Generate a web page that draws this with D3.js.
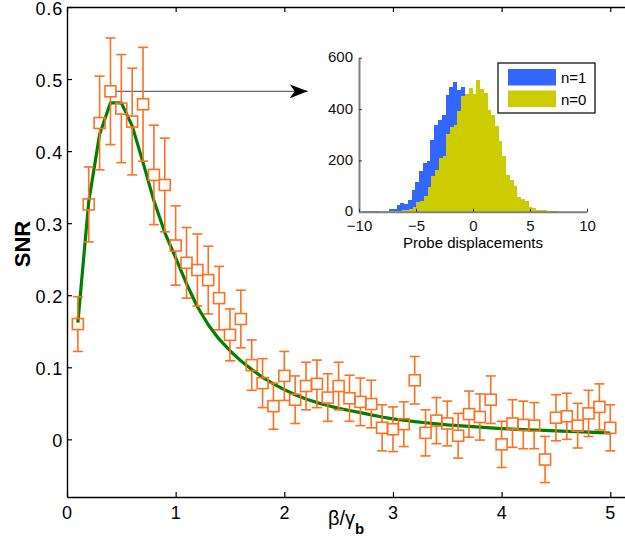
<!DOCTYPE html>
<html>
<head>
<meta charset="utf-8">
<script src="https://cdn.jsdelivr.net/npm/d3@7"></script>
<style>
  body { margin: 0; background: #fff; }
  svg { font-family: "Liberation Sans", Arial, sans-serif; }
</style>
</head>
<body>
<div id="chart"></div>
<script>
// ---- main data: SNR vs beta/gamma_b ----
const betaX = [0.1, 0.2, 0.3, 0.4, 0.5, 0.6, 0.7, 0.8, 0.9, 1.0,
               1.1, 1.2, 1.3, 1.4, 1.5, 1.6, 1.7, 1.8, 1.9, 2.0,
               2.1, 2.2, 2.3, 2.4, 2.5, 2.6, 2.7, 2.8, 2.9, 3.0,
               3.1, 3.2, 3.3, 3.4, 3.5, 3.6, 3.7, 3.8, 3.9, 4.0,
               4.1, 4.2, 4.3, 4.4, 4.5, 4.6, 4.7, 4.8, 4.9, 5.0];
const snrMeasured = [0.160, 0.326, 0.439, 0.483, 0.459, 0.441, 0.465, 0.367, 0.353, 0.269,
                     0.245, 0.235, 0.221, 0.196, 0.145, 0.167, 0.103, 0.078, 0.046, 0.088,
                     0.055, 0.074, 0.077, 0.058, 0.074, 0.057, 0.052, 0.049, 0.016, 0.014,
                     0.021, 0.082, 0.009, 0.026, 0.022, 0.005, 0.035, 0.031, 0.055, -0.007,
                     0.022, 0.020, 0.019, -0.028, 0.030, 0.032, 0.019, 0.036, 0.045, 0.016];
const snrError = [0.038, 0.052, 0.065, 0.074, 0.075, 0.074, 0.079, 0.069, 0.065, 0.055,
                  0.049, 0.050, 0.047, 0.044, 0.036, 0.040, 0.035, 0.034, 0.032, 0.034,
                  0.033, 0.033, 0.033, 0.033, 0.033, 0.032, 0.033, 0.033, 0.032, 0.031,
                  0.031, 0.033, 0.032, 0.032, 0.031, 0.031, 0.032, 0.032, 0.033, 0.032,
                  0.033, 0.033, 0.032, 0.032, 0.032, 0.032, 0.031, 0.032, 0.032, 0.032];
const snrTheory = [0.162, 0.330, 0.423, 0.467, 0.467, 0.435, 0.384, 0.331, 0.287, 0.252,
                   0.216, 0.184, 0.159, 0.139, 0.123, 0.109, 0.097, 0.086, 0.077, 0.069,
                   0.062, 0.056, 0.051, 0.047, 0.043, 0.040, 0.037, 0.034, 0.031, 0.0285,
                   0.0265, 0.0245, 0.023, 0.0215, 0.020, 0.019, 0.018, 0.017, 0.016, 0.015,
                   0.0143, 0.0136, 0.013, 0.0124, 0.0118, 0.0112, 0.0106, 0.010, 0.0094, 0.0088];
const xTicks = [0, 1, 2, 3, 4, 5];
const yTicks = [0, 0.1, 0.2, 0.3, 0.4, 0.5, 0.6];
const arrowFrom = [0.4, 0.483], arrowTo = [2.215, 0.483];

// ---- inset data: histograms of probe displacements ----
const n1Start = -9.67, n1Width = 0.33;
const n1Counts = [2, 2, 2, 3, 3, 3, 3, 10, 10, 26, 34, 30, 46, 85, 115, 159, 190, 199, 280, 338,
                  357, 377, 455, 485, 504, 474, 487, 460, 445, 400, 340, 280, 220, 160, 110, 72, 42, 22, 11, 6,
                  3, 2, 1, 1, 1, 1];
const n0Start = -8.23, n0Width = 0.327;
const n0Counts = [1, 1, 2, 2, 3, 4, 6, 7, 10, 17, 39, 42, 61, 95, 139, 163, 211, 217, 303, 329,
                  338, 393, 451, 459, 481, 459, 513, 478, 461, 396, 377, 334, 276, 217, 143, 124, 100, 56, 48, 43,
                  20, 13, 7, 5, 7, 3, 3, 2];
const insetXTicks = [-10, -5, 0, 5, 10];
const insetYTicks = [0, 200, 400, 600];
const legendLabels = ["n=1", "n=0"];

const orange = "#ff7020", green = "#007f00";
const blue = "#3366ff", yellow = "#cccc00";

const svg = d3.select("#chart")
    .append("svg")
    .attr("width", 625)
    .attr("height", 545);

const x = d3.scaleLinear().domain([0, 5.2]).range([67, 632]);
const y = d3.scaleLinear().domain([-0.08, 0.6]).range([497, 7]);

// axes (MATLAB style, ticks inward)
const styleAxis = (g, size) => {
    g.select(".domain").attr("stroke", "#000").attr("stroke-width", 1.4);
    g.selectAll(".tick line").attr("stroke", "#000").attr("stroke-width", 1.2);
    g.selectAll(".tick text").attr("fill", "#000")
        .style("font-size", size + "px")
        .style("letter-spacing", "0.8px")
        .style("font-family", "'Liberation Sans', Arial, sans-serif");
};

svg.append("g")
    .attr("transform", `translate(${x(0)},0)`)
    .call(d3.axisLeft(y).tickValues(yTicks).tickSizeInner(-5).tickSizeOuter(0).tickPadding(4)
        .tickFormat(d => d === 0 ? "0" : d.toFixed(1)))
    .call(g => styleAxis(g, 18))
    .call(g => g.selectAll(".tick text").attr("dy", "0.42em"));

svg.append("g")
    .attr("transform", `translate(0,${y(-0.08)})`)
    .call(d3.axisBottom(x).tickValues(xTicks).tickSizeInner(-5).tickSizeOuter(0).tickPadding(9)
        .tickFormat(d3.format("d")))
    .call(g => styleAxis(g, 18));

svg.append("g")
    .attr("transform", `translate(0,${y(0.6)})`)
    .call(d3.axisTop(x).tickValues(xTicks).tickSizeInner(-5).tickSizeOuter(0).tickFormat(""))
    .call(g => styleAxis(g, 18));

// axis titles
svg.append("text")
    .attr("transform", "translate(30,244) rotate(-90)")
    .attr("text-anchor", "middle")
    .style("font-size", "22px")
    .style("font-weight", "bold")
    .text("SNR");

const xLabel = svg.append("text")
    .attr("x", 328)
    .attr("y", 525)
    .style("font-size", "20px");
xLabel.append("tspan").text("β/γ");
xLabel.append("tspan").attr("dy", 9).style("font-size", "15px").style("font-weight", "bold").text("b");

// theory curve
svg.append("path")
    .datum(betaX.map((b, i) => [b, snrTheory[i]]))
    .attr("fill", "none")
    .attr("stroke", green)
    .attr("stroke-width", 3.2)
    .attr("stroke-linejoin", "round")
    .attr("d", d3.line().x(d => x(d[0])).y(d => y(d[1])));

// arrow to inset
svg.append("defs").append("marker")
    .attr("id", "head")
    .attr("viewBox", "0 0 18 14")
    .attr("refX", 18).attr("refY", 7)
    .attr("markerWidth", 18).attr("markerHeight", 14)
    .attr("markerUnits", "userSpaceOnUse")
    .attr("orient", "auto")
    .append("path")
    .attr("d", "M0,0 L18,7 L0,14 L5,7 Z")
    .attr("fill", "#000");

svg.append("line")
    .attr("x1", x(arrowFrom[0]) + 5).attr("y1", y(arrowFrom[1]))
    .attr("x2", x(arrowTo[0])).attr("y2", y(arrowTo[1]))
    .attr("stroke", "#444")
    .attr("stroke-width", 1)
    .attr("marker-end", "url(#head)");

// error bars with square markers
const pts = betaX.map((b, i) => ({b, v: snrMeasured[i], e: snrError[i]}));
const capW = 5, box = 5.5;
const eb = svg.append("g").attr("stroke", orange).attr("stroke-width", 1.6).attr("fill", "none");
pts.forEach(d => {
    const cx = x(d.b), cy = y(d.v), top = y(d.v + d.e), bot = y(d.v - d.e);
    eb.append("line").attr("x1", cx).attr("x2", cx).attr("y1", top).attr("y2", cy - box);
    eb.append("line").attr("x1", cx).attr("x2", cx).attr("y1", cy + box).attr("y2", bot);
    eb.append("line").attr("x1", cx - capW).attr("x2", cx + capW).attr("y1", top).attr("y2", top);
    eb.append("line").attr("x1", cx - capW).attr("x2", cx + capW).attr("y1", bot).attr("y2", bot);
});
eb.selectAll("rect")
    .data(pts)
    .join("rect")
    .attr("x", d => x(d.b) - box)
    .attr("y", d => y(d.v) - box)
    .attr("width", box * 2)
    .attr("height", box * 2);

// ---- inset ----
const xi = d3.scaleLinear().domain([-10, 10]).range([359, 587]);
const yi = d3.scaleLinear().domain([0, 600]).range([211.7, 57.7]);
const inset = svg.append("g");

const drawHist = (start, w, counts, color) => {
    inset.append("g")
        .attr("shape-rendering", "crispEdges")
        .selectAll("rect")
        .data(counts)
        .join("rect")
        .attr("x", (c, i) => xi(start + i * w))
        .attr("width", (c, i) => xi(start + (i + 1) * w) - xi(start + i * w) + 0.3)
        .attr("y", c => yi(c))
        .attr("height", c => yi(0) - yi(c))
        .attr("fill", color);
};
drawHist(n1Start, n1Width, n1Counts, blue);
drawHist(n0Start, n0Width, n0Counts, yellow);

const styleInset = g => {
    g.select(".domain").attr("stroke", "#808080").attr("stroke-width", 2);
    g.selectAll(".tick line").attr("stroke", "#333").attr("stroke-width", 1);
    g.selectAll(".tick text").attr("fill", "#111")
        .style("font-size", "15px")
        .style("font-family", "'Liberation Sans', Arial, sans-serif");
};
inset.append("g")
    .attr("transform", `translate(${xi(-10)},0)`)
    .call(d3.axisLeft(yi).tickValues(insetYTicks).tickSizeInner(-3).tickSizeOuter(0).tickPadding(6))
    .call(styleInset)
    .call(g => g.selectAll(".tick text").attr("dy", "0.28em"));
inset.append("g")
    .attr("transform", `translate(0,${yi(0)})`)
    .call(d3.axisBottom(xi).tickValues(insetXTicks).tickSizeInner(-3).tickSizeOuter(0).tickPadding(9))
    .call(styleInset);

inset.append("text")
    .attr("x", xi(0))
    .attr("y", 248)
    .attr("text-anchor", "middle")
    .style("font-size", "15px")
    .text("Probe displacements");

// legend
const lg = inset.append("g").attr("transform", "translate(498,63)");
lg.append("rect").attr("width", 97).attr("height", 50)
    .attr("fill", "#fff").attr("stroke", "#000").attr("stroke-width", 1.2);
lg.selectAll(".sw")
    .data(legendLabels)
    .join("rect")
    .attr("x", 10).attr("y", (d, i) => 6 + i * 21.5)
    .attr("width", 48).attr("height", 16.5)
    .attr("fill", (d, i) => i === 0 ? blue : yellow);
lg.selectAll("text")
    .data(legendLabels)
    .join("text")
    .attr("x", 63).attr("y", (d, i) => 20 + i * 21.5)
    .style("font-size", "15px")
    .text(d => d);
</script>
</body>
</html>
